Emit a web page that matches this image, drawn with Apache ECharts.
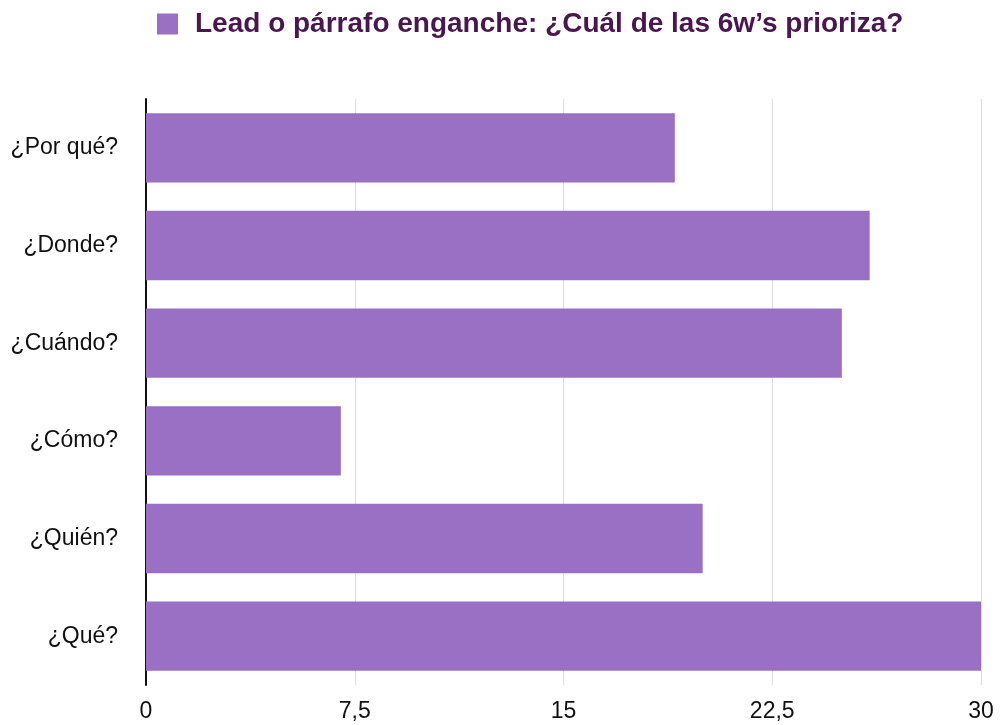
<!DOCTYPE html>
<html><head><meta charset="utf-8">
<script src="https://cdn.jsdelivr.net/npm/echarts@6/dist/echarts.min.js"></script>
<style>html,body{margin:0;padding:0;background:#fff}#c{width:1000px;height:725px}</style>
</head><body><div id="c"></div>
<script>
const seriesName = 'Lead o párrafo enganche: ¿Cuál de las 6w’s prioriza?';
const categories = ['¿Por qué?', '¿Donde?', '¿Cuándo?', '¿Cómo?', '¿Quién?', '¿Qué?'];
const values = [19, 26, 25, 7, 20, 30];

const chart = echarts.init(document.getElementById('c'));
chart.setOption({
  animation: false,
  legend: {
    top: 5, left: 152,
    itemWidth: 21, itemHeight: 21,
    icon: 'rect',
    textStyle: { fontFamily: 'Liberation Sans, Arial, sans-serif', fontWeight: 'bold', fontSize: 28, color: '#4a1650', padding: [0, 0, 0, 12] },
    data: [seriesName]
  },
  grid: { left: 146, right: 19, top: 99, bottom: 40, containLabel: false },
  xAxis: {
    type: 'value', min: 0, max: 30, interval: 7.5,
    axisLine: { show: false }, axisTick: { show: false },
    splitLine: { show: true, lineStyle: { color: '#dddddd', width: 1 } },
    axisLabel: {
      margin: 15, fontSize: 23, color: '#111',
      fontFamily: 'Liberation Sans, Arial, sans-serif',
      formatter: v => String(v).replace('.', ',')
    }
  },
  yAxis: {
    type: 'category', inverse: true, data: categories,
    axisLine: { show: true, lineStyle: { color: '#111', width: 2 } },
    axisTick: { show: false },
    axisLabel: { margin: 28, fontSize: 23, color: '#111', fontFamily: 'Liberation Sans, Arial, sans-serif' }
  },
  series: [{
    name: seriesName, type: 'bar', data: values,
    barCategoryGap: '29%',
    itemStyle: { color: '#9a70c4' }
  }]
});
</script></body></html>
